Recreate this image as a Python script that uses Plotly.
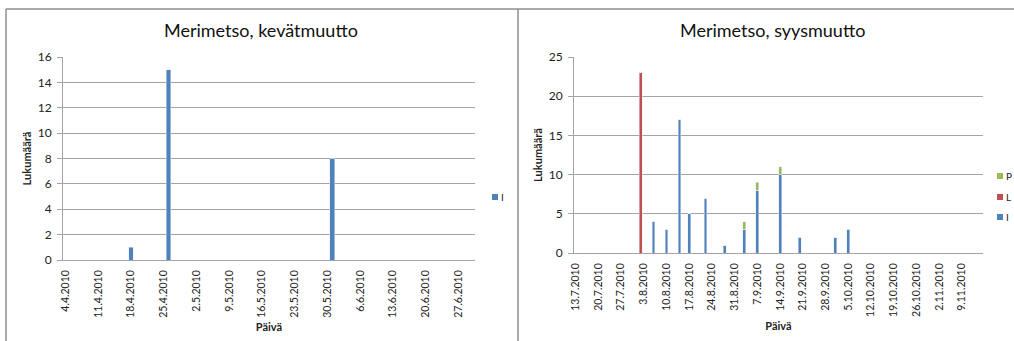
import pandas as pd
import plotly.graph_objects as go

# ---- data -------------------------------------------------------------
# Spring migration (kevätmuutto): counts per observation day
spring_dates = ["2010-04-18", "2010-04-26", "2010-05-31"]
spring_I = [1, 15, 8]

# Autumn migration (syysmuutto): counts per observation day, by group
autumn_dates = ["2010-08-02", "2010-08-06", "2010-08-10", "2010-08-14",
                "2010-08-17", "2010-08-22", "2010-08-28", "2010-09-03",
                "2010-09-07", "2010-09-14", "2010-09-20", "2010-10-01",
                "2010-10-05"]
autumn_I = [0, 4, 3, 17, 5, 7, 1, 3, 8, 10, 2, 2, 3]
autumn_L = [23, 0, 0, 0, 0, 0, 0, 0, 0, 0, 0, 0, 0]
autumn_P = [0, 0, 0, 0, 0, 0, 0, 1, 1, 1, 0, 0, 0]

# weekly tick labels on the date axes
spring_ticks = ["4.4.2010", "11.4.2010", "18.4.2010", "25.4.2010", "2.5.2010",
                "9.5.2010", "16.5.2010", "23.5.2010", "30.5.2010", "6.6.2010",
                "13.6.2010", "20.6.2010", "27.6.2010"]
autumn_ticks = ["13.7.2010", "20.7.2010", "27.7.2010", "3.8.2010", "10.8.2010",
                "17.8.2010", "24.8.2010", "31.8.2010", "7.9.2010", "14.9.2010",
                "21.9.2010", "28.9.2010", "5.10.2010", "12.10.2010",
                "19.10.2010", "26.10.2010", "2.11.2010", "9.11.2010"]

titles = ["Merimetso, kevätmuutto", "Merimetso, syysmuutto"]

# ---- styling ----------------------------------------------------------
W, H = 1014, 341
FONT = "Lato"
BLUE, RED, GREEN = "#4F81BD", "#C0504D", "#9BBB59"
GRID = "#A4A4A4"
FRAME = "#8E8E8E"
TEXT = "#222222"
DAY = 86400000


def fx(p):
    return p / W


def fy(p):
    return 1 - p / H


def tickvals(labels):
    return [pd.to_datetime(t, format="%d.%m.%Y").strftime("%Y-%m-%d") for t in labels]


fig = go.Figure()

fig.add_trace(go.Bar(x=spring_dates, y=spring_I, name="I", marker_color=BLUE,
                     width=1.0 * DAY, xaxis="x", yaxis="y", showlegend=False))

for name, vals, col in [("I", autumn_I, BLUE), ("L", autumn_L, RED), ("P", autumn_P, GREEN)]:
    fig.add_trace(go.Bar(x=autumn_dates, y=vals, name=name, marker_color=col,
                         width=0.9 * DAY, xaxis="x2", yaxis="y2", showlegend=False))

xcommon = dict(type="date", tickangle=-90, showgrid=False, showline=True,
               linecolor=GRID, linewidth=1, ticks="", ticklabelstandoff=5,
               tickfont=dict(family=FONT, size=10.5, color=TEXT),
               title=dict(text="<b>Päivä</b>", font=dict(family=FONT, size=11, color=TEXT),
                          standoff=6))
ycommon = dict(showgrid=True, gridcolor=GRID, gridwidth=1, showline=True,
               linecolor=GRID, linewidth=1, ticks="outside", ticklen=5,
               tickcolor=GRID, zeroline=False, ticklabelstandoff=3,
               tickfont=dict(family=FONT, size=12, color=TEXT),
               title=dict(text="<b>Lukumäärä</b>", font=dict(family=FONT, size=11, color=TEXT),
                          standoff=3))

fig.update_layout(
    width=W, height=H,
    margin=dict(l=0, r=0, t=0, b=0, autoexpand=False),
    paper_bgcolor="white", plot_bgcolor="white",
    barmode="stack",
    showlegend=False,
    xaxis=dict(xcommon, domain=[fx(63), fx(475)], anchor="y",
               range=["2010-04-03 12:00", "2010-06-30 12:00"],
               tickvals=tickvals(spring_ticks), ticktext=spring_ticks),
    yaxis=dict(ycommon, domain=[fy(260), fy(57)], anchor="x",
               range=[0, 16], dtick=2),
    xaxis2=dict(xcommon, domain=[fx(574), fx(983)], anchor="y2",
                range=["2010-07-12 12:00", "2010-11-15 12:00"],
                tickvals=tickvals(autumn_ticks), ticktext=autumn_ticks),
    yaxis2=dict(ycommon, domain=[fy(253), fy(57)], anchor="x2",
                range=[0, 25], dtick=5),
)

# chart titles
for text, cx in zip(titles, [261, 772]):
    fig.add_annotation(text=text, x=fx(cx), y=fy(30), xref="paper", yref="paper",
                       xanchor="center", yanchor="middle", showarrow=False,
                       font=dict(family=FONT, size=18, color="#111111"))

# chart frames
shapes = [
    dict(type="line", xref="paper", yref="paper", x0=fx(6), x1=1, y0=fy(9), y1=fy(9),
         line=dict(color=FRAME, width=1.5)),
    dict(type="line", xref="paper", yref="paper", x0=fx(6), x1=fx(6), y0=fy(9), y1=0,
         line=dict(color=FRAME, width=1.5)),
    dict(type="line", xref="paper", yref="paper", x0=fx(518), x1=fx(518), y0=fy(9), y1=0,
         line=dict(color=FRAME, width=1.5)),
]

# legends (series keys beside each chart)
legend_items = [
    (495, 197, "I", BLUE),
    (1000, 176, "P", GREEN),
    (1000, 197, "L", RED),
    (1000, 217, "I", BLUE),
]
for cx, cy, label, col in legend_items:
    shapes.append(dict(type="rect", xref="paper", yref="paper",
                       x0=fx(cx - 3), x1=fx(cx + 3), y0=fy(cy + 3), y1=fy(cy - 3),
                       fillcolor=col, line=dict(width=0)))
    fig.add_annotation(text=label, x=fx(cx + 4), y=fy(cy), xref="paper", yref="paper",
                       xanchor="left", yanchor="middle", showarrow=False,
                       font=dict(family=FONT, size=10, color=TEXT))

fig.update_layout(shapes=shapes)

fig.write_html("out.html")
